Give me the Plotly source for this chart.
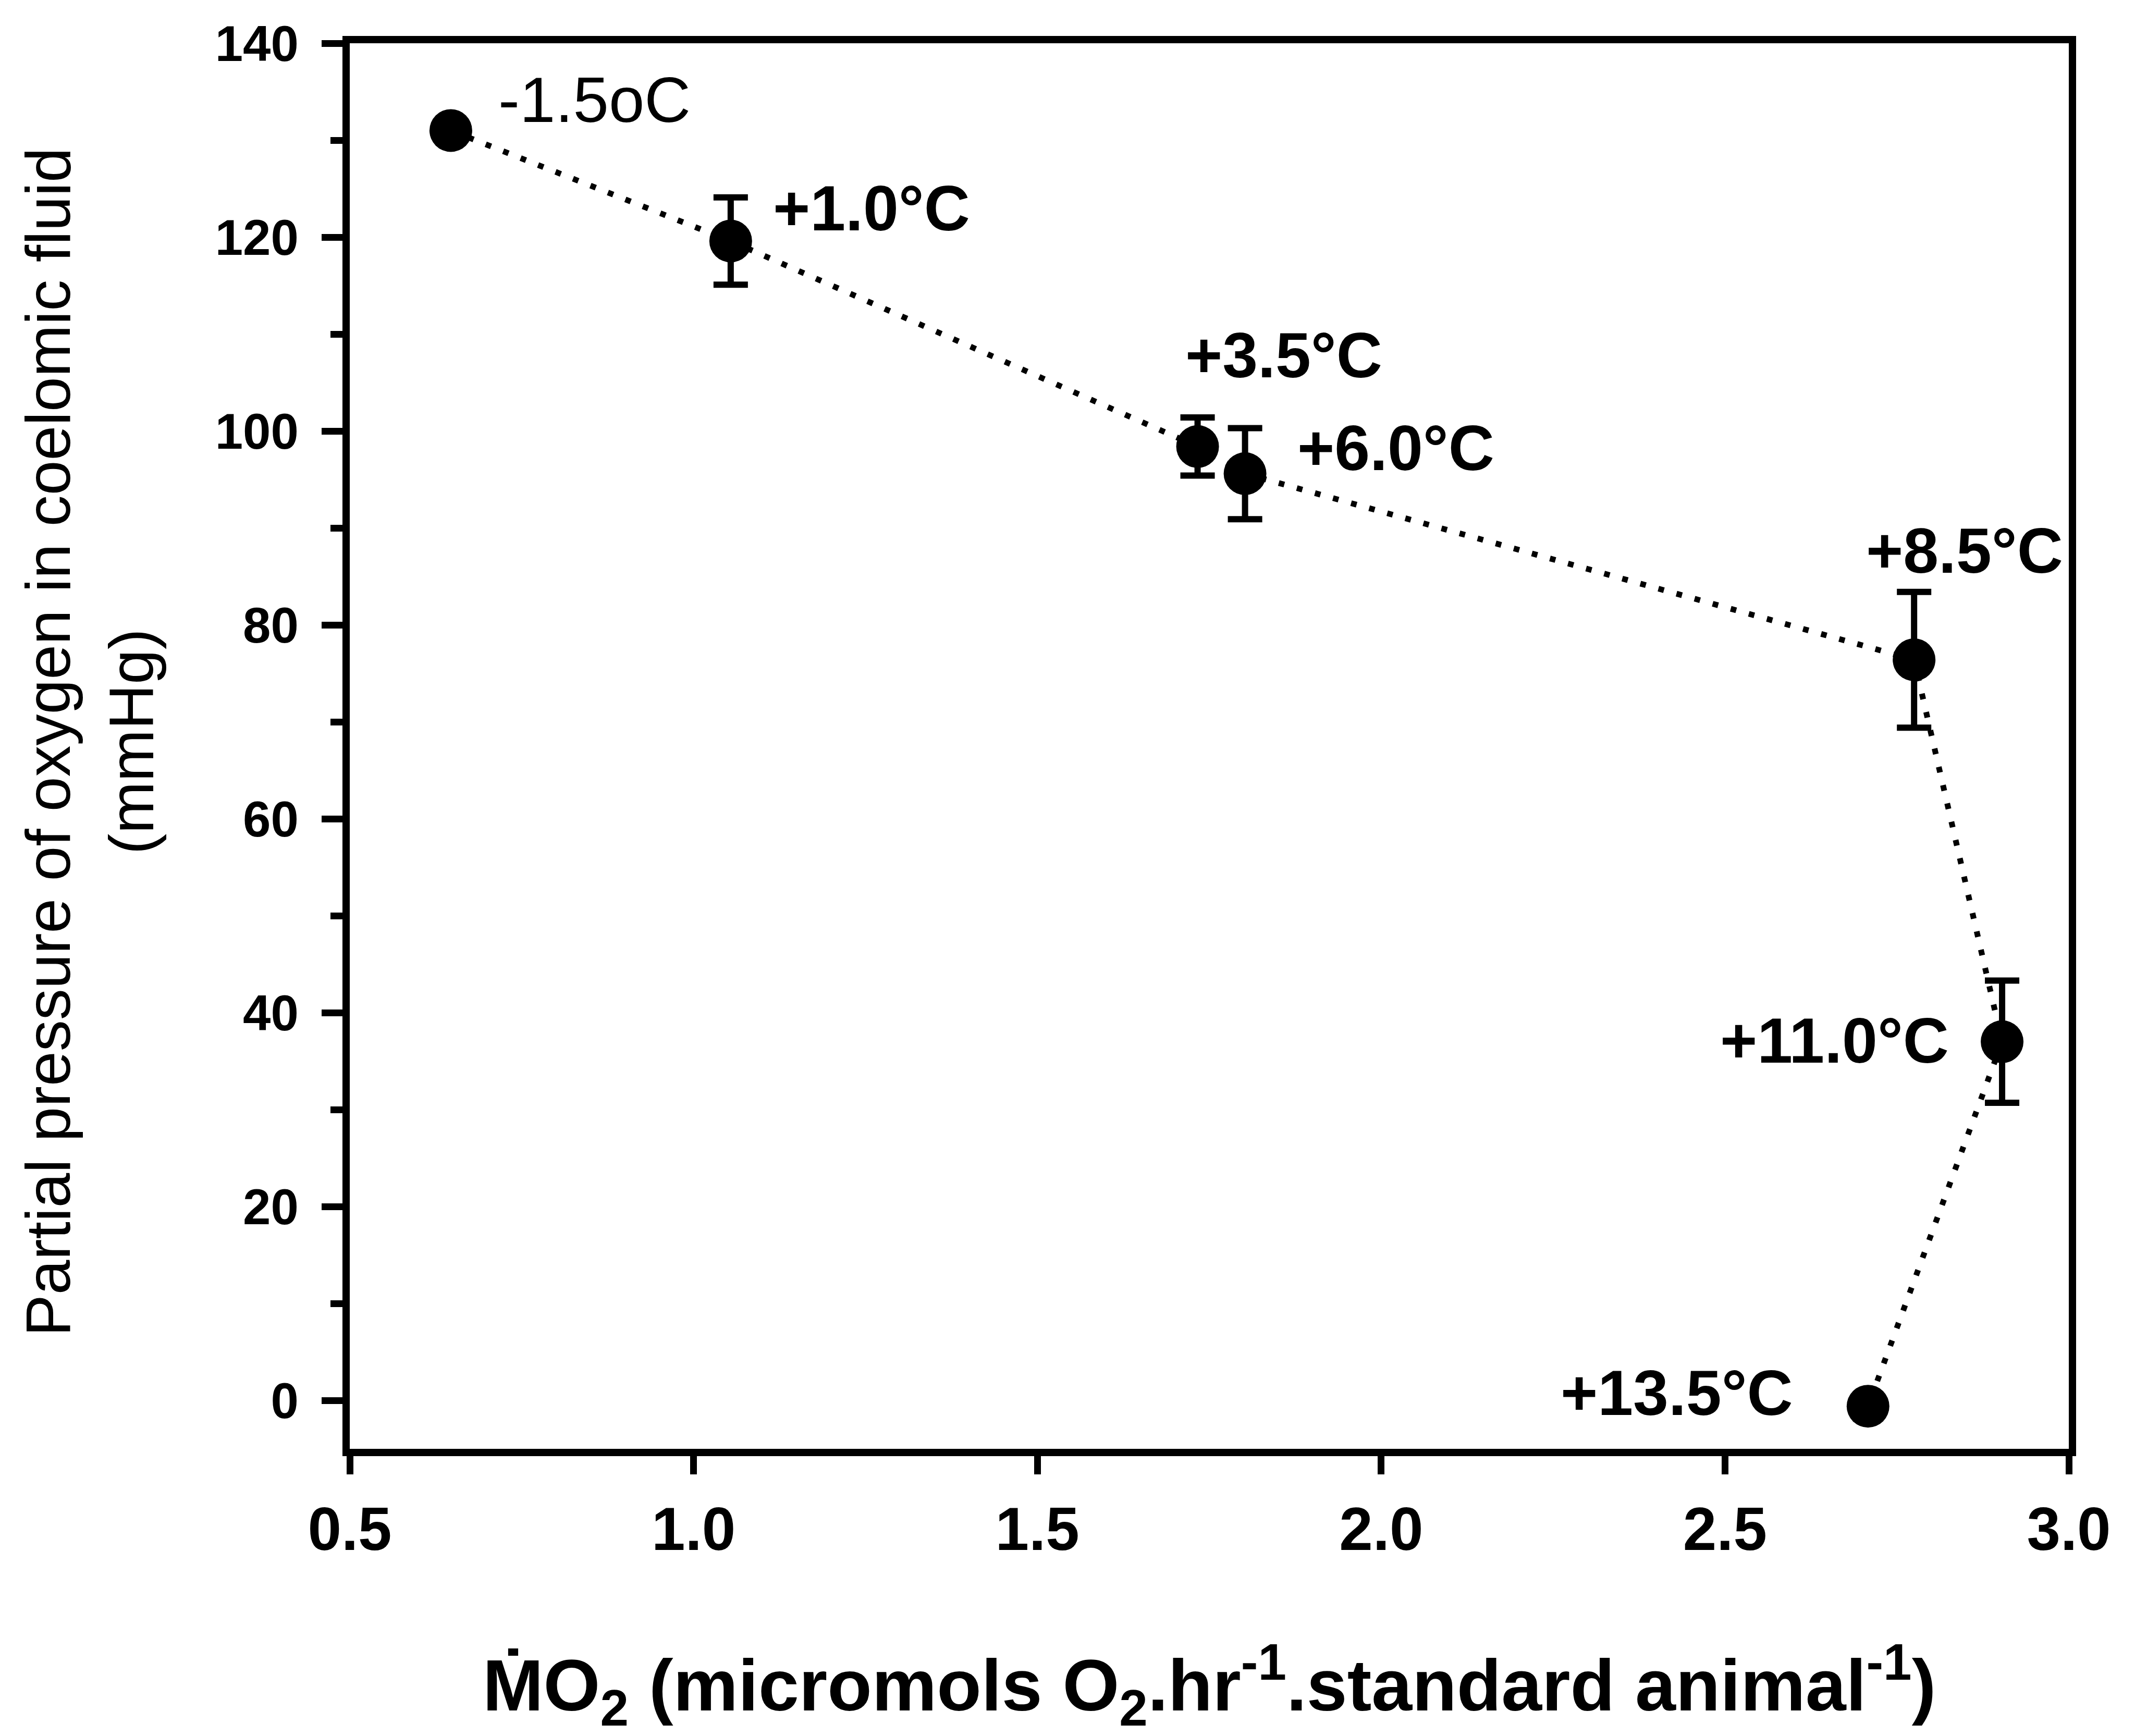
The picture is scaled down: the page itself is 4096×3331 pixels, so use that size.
import plotly.graph_objects as go

# Oxygen consumption (MO2) vs coelomic fluid PO2 across acclimation temperatures
mo2 = [0.647, 1.054, 1.733, 1.802, 2.775, 2.903, 2.708]
po2 = [131.0, 119.6, 98.4, 95.6, 76.4, 37.0, -0.6]
po2_err = [None, 4.5, 3.0, 4.7, 7.0, 6.3, None]

temp_labels = ["-1.5oC", "+1.0°C", "+3.5°C", "+6.0°C", "+8.5°C", "+11.0°C", "+13.5°C"]
label_x = [0.7145, 1.114, 1.7136, 1.8766, 2.7036, 2.827, 2.6005]
label_y = [134.17, 122.98, 107.8, 98.25, 87.64, 37.11, 0.75]
label_side = ["left", "left", "left", "left", "left", "right", "right"]

x_ticks = [0.5, 1.0, 1.5, 2.0, 2.5, 3.0]
y_ticks = [0, 20, 40, 60, 80, 100, 120, 140]

FONT = "Liberation Sans, Arial, Helvetica, sans-serif"

fig = go.Figure()
fig.add_trace(go.Scatter(
    x=mo2, y=po2,
    mode="lines+markers",
    line=dict(color="black", width=11, dash="11px,25px"),
    marker=dict(color="black", size=82, line=dict(width=0)),
    error_y=dict(type="data", array=po2_err, symmetric=True,
                 color="black", thickness=12, width=33),
    showlegend=False,
    hoverinfo="skip",
))

annotations = []
for txt, lx, ly, side in zip(temp_labels, label_x, label_y, label_side):
    regular = txt.endswith("oC")
    annotations.append(dict(
        x=lx, y=ly, xref="x", yref="y", text=txt, showarrow=False,
        xanchor=side, yanchor="middle",
        font=dict(family=FONT, size=123 if regular else 122, color="black",
                  weight="normal" if regular else "bold"),
    ))

# axis titles
annotations.append(dict(
    x=0.5, y=-0.168, xref="paper", yref="paper", showarrow=False,
    xanchor="center", yanchor="middle",
    text="M\u0307O<sub>2</sub> (micromols O<sub>2</sub>.hr<sup>-1</sup>.standard animal<sup>-1</sup>)",
    font=dict(family=FONT, size=140, color="black", weight="bold"),
))
annotations.append(dict(
    x=-0.1753, y=0.503, xref="paper", yref="paper", showarrow=False,
    xanchor="center", yanchor="middle", textangle=-90,
    text="Partial pressure of oxygen in coelomic fluid",
    font=dict(family=FONT, size=120, color="black"),
))
annotations.append(dict(
    x=-0.127, y=0.503, xref="paper", yref="paper", showarrow=False,
    xanchor="center", yanchor="middle", textangle=-90,
    text="(mmHg)",
    font=dict(family=FONT, size=120, color="black"),
))

fig.update_layout(
    width=4096, height=3331,
    margin=dict(l=671, r=127, t=83, b=551),
    paper_bgcolor="white", plot_bgcolor="white",
    annotations=annotations,
    xaxis=dict(
        range=[0.5, 3.0], tickvals=x_ticks, tickformat=".1f",
        showline=True, linewidth=14, linecolor="black", mirror=True,
        ticks="outside", ticklen=35, tickwidth=13, tickcolor="black",
        showgrid=False, zeroline=False, ticklabelstandoff=6,
        tickfont=dict(family=FONT, size=116, color="black", weight="bold"),
    ),
    yaxis=dict(
        range=[-5, 140], tickvals=y_ticks,
        showline=True, linewidth=14, linecolor="black", mirror=True,
        ticks="outside", ticklen=40, tickwidth=13, tickcolor="black",
        minor=dict(ticks="outside", ticklen=23, tickwidth=13, tickcolor="black",
                   tickvals=[10, 30, 50, 70, 90, 110, 130]),
        showgrid=False, zeroline=False, ticklabelstandoff=25,
        tickfont=dict(family=FONT, size=96, color="black", weight="bold"),
    ),
)

fig.write_html("out.html")
